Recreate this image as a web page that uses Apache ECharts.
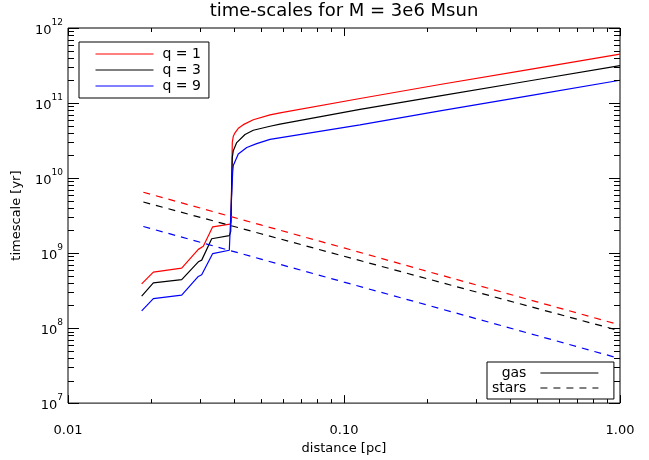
<!DOCTYPE html>
<html><head><meta charset="utf-8">
<script src="https://cdn.jsdelivr.net/npm/echarts@6/dist/echarts.min.js"></script>
<style>html,body{margin:0;padding:0;background:#fff}#c{width:649px;height:460px}</style>
</head><body><div id="c"></div>
<script>
const FONT = 'DejaVu Sans';

// axis ticks
const xTickValues = [0.01, 0.1, 1];
const xTickLabels = ['0.01', '0.10', '1.00'];
const yTickExponents = [7, 8, 9, 10, 11, 12];
const minorMultipliers = [2, 3, 4, 5, 6, 7, 8, 9];

// gas time-scales (solid)
const dGasRed   = [0.01849, 0.02038, 0.02582, 0.02966, 0.03092, 0.03344, 0.03864, 0.03896, 0.03938, 0.03971, 0.04028, 0.04140, 0.04318, 0.04692, 0.05395, 0.05864, 0.1143, 0.2227, 0.4720, 1.0];
const tGasRed   = [3.88e8, 5.56e8, 6.28e8, 1.12e9, 1.23e9, 2.24e9, 2.43e9, 2.60e9, 3.0e10, 3.6e10, 4.01e10, 4.6e10, 5.15e10, 5.98e10, 6.95e10, 7.4e10, 1.148e11, 1.765e11, 2.81e11, 4.48e11];
const dGasBlack = [0.01849, 0.02038, 0.02582, 0.02966, 0.03051, 0.03316, 0.03841, 0.03886, 0.03938, 0.03971, 0.04086, 0.04378, 0.04692, 0.05395, 0.05864, 0.1143, 0.2227, 0.4720, 1.0];
const tGasBlack = [2.67e8, 4.00e8, 4.42e8, 7.65e8, 8.05e8, 1.55e9, 1.71e9, 1.93e9, 1.89e10, 2.31e10, 2.97e10, 3.81e10, 4.33e10, 4.90e10, 5.24e10, 8.25e10, 1.245e11, 1.98e11, 3.15e11];
const dGasBlue  = [0.01849, 0.02038, 0.02582, 0.02966, 0.03051, 0.03344, 0.03841, 0.03896, 0.0395, 0.03971, 0.0414, 0.04443, 0.04827, 0.05395, 0.1143, 0.2227, 0.4720, 1.0];
const tGasBlue  = [1.70e8, 2.47e8, 2.75e8, 4.88e8, 5.13e8, 9.85e8, 1.09e9, 1.15e9, 1.2e10, 1.47e10, 2.09e10, 2.55e10, 2.88e10, 3.28e10, 5.1e10, 7.84e10, 1.255e11, 2.01e11];

// stellar time-scales (dashed)
const dStars      = [0.01875, 0.05, 0.1, 0.2, 0.5, 1.0];
const tStarsRed   = [6.47e9, 2.37e9, 1.17e9, 5.72e8, 2.24e8, 1.10e8];
const tStarsBlack = [4.79e9, 1.81e9, 9.07e8, 4.55e8, 1.83e8, 9.19e7];
const tStarsBlue  = [2.26e9, 8.31e8, 4.10e8, 2.03e8, 7.96e7, 3.92e7];

function pairs(xs, ys) { return xs.map((x, i) => [x, ys[i]]); }

// tick data for custom tick series (value, flag major)
const xTicks = [];
xTickValues.forEach((v, i) => {
  xTicks.push([v, 1e7, 1]);
  if (i < xTickValues.length - 1) minorMultipliers.forEach(m => xTicks.push([v * m, 1e7, 0]));
});
const yTicks = [];
yTickExponents.forEach((e, i) => {
  const v = Math.pow(10, e);
  yTicks.push([0.01, v, 1]);
  if (i < yTickExponents.length - 1) minorMultipliers.forEach(m => yTicks.push([0.01, v * m, 0]));
});

function renderXTick(params, api) {
  const cs = params.coordSys;
  const p = api.coord([api.value(0), api.value(1)]);
  const x = Math.round(p[0]) + 0.5;
  const len = api.value(2) ? 8 : 4;
  const yb = cs.y + cs.height, yt = cs.y;
  return {type: 'group', children: [
    {type: 'line', shape: {x1: x, y1: yb, x2: x, y2: yb - len}, style: {stroke: '#000', lineWidth: 1}},
    {type: 'line', shape: {x1: x, y1: yt, x2: x, y2: yt + len}, style: {stroke: '#000', lineWidth: 1}}
  ]};
}
function renderYTick(params, api) {
  const cs = params.coordSys;
  const p = api.coord([api.value(0), api.value(1)]);
  const y = Math.round(p[1]) + 0.5;
  const len = api.value(2) ? 11 : 6;
  const xl = cs.x, xr = cs.x + cs.width;
  return {type: 'group', children: [
    {type: 'line', shape: {x1: xl, y1: y, x2: xl + len, y2: y}, style: {stroke: '#000', lineWidth: 1}},
    {type: 'line', shape: {x1: xr, y1: y, x2: xr - len, y2: y}, style: {stroke: '#000', lineWidth: 1}}
  ]};
}

function lineSeries(name, data, color, dashed) {
  return {
    name: name, type: 'line', data: data, symbol: 'none', showSymbol: false,
    silent: true, z: 3,
    lineStyle: {color: color, width: 1.2, type: dashed ? [7, 6] : 'solid'},
    itemStyle: {color: color}
  };
}

const chart = echarts.init(document.getElementById('c'), null, {renderer: 'canvas'});
const txt = {fontFamily: FONT, color: '#000'};
const hiddenSymbol = {color: 'transparent', borderWidth: 0, opacity: 0};

chart.setOption({
  animation: false,
  backgroundColor: '#fff',
  title: {
    text: 'time-scales for M = 3e6 Msun',
    left: 344, top: 2, textAlign: 'center', padding: 0,
    textStyle: {fontFamily: FONT, fontSize: 18, fontWeight: 'normal', color: '#000'}
  },
  grid: {left: 68, top: 28, width: 552, height: 383, show: true, borderColor: '#000', borderWidth: 1, backgroundColor: 'transparent'},
  xAxis: {
    type: 'log', logBase: 10, min: 0.01, max: 1,
    axisLine: {show: false}, axisTick: {show: false}, splitLine: {show: false},
    axisLabel: {
      ...txt, fontSize: 13, margin: 21,
      formatter: v => {
        const i = xTickValues.findIndex(t => Math.abs(Math.log10(t / v)) < 1e-6);
        return i >= 0 ? xTickLabels[i] : '';
      }
    },
    name: 'distance [pc]', nameLocation: 'middle', nameGap: 30,
    nameTextStyle: {...txt, fontSize: 13}
  },
  yAxis: {
    type: 'log', logBase: 10, min: 1e7, max: 1e12,
    axisLine: {show: false}, axisTick: {show: false}, splitLine: {show: false},
    axisLabel: {
      margin: 5,
      formatter: v => '{b|10}{s|' + Math.round(Math.log10(v)) + '}',
      rich: {
        b: {...txt, fontSize: 13, padding: [6, 0, 0, 0]},
        s: {...txt, fontSize: 9, verticalAlign: 'top'}
      }
    },
    name: 'timescale [yr]', nameLocation: 'middle', nameGap: 45,
    nameTextStyle: {...txt, fontSize: 13}
  },
  legend: [
    {
      data: ['q = 1', 'q = 3', 'q = 9'],
      orient: 'vertical', left: 79, top: 42, align: 'left',
      itemWidth: 58, itemHeight: 14, itemGap: 2,
      padding: [5, 8, 5, 16], borderColor: '#000', borderWidth: 1,
      selectedMode: false,
      itemStyle: hiddenSymbol,
      lineStyle: {width: 1},
      textStyle: {...txt, fontSize: 14, padding: [0, 0, 0, 4]}
    },
    {
      data: ['gas', 'stars'],
      orient: 'vertical', left: 487, top: 362, align: 'right',
      itemWidth: 58, itemHeight: 14, itemGap: 1,
      padding: [4, 15, 4, 5], borderColor: '#000', borderWidth: 1,
      selectedMode: false,
      itemStyle: hiddenSymbol,
      lineStyle: {width: 1},
      textStyle: {...txt, fontSize: 14, padding: [0, 9, 0, 0]}
    }
  ],
  series: [
    lineSeries('q = 1', pairs(dGasRed, tGasRed), '#ff0000', false),
    lineSeries('q = 3', pairs(dGasBlack, tGasBlack), '#000000', false),
    lineSeries('q = 9', pairs(dGasBlue, tGasBlue), '#0000ff', false),
    lineSeries('stars q = 1', pairs(dStars, tStarsRed), '#ff0000', true),
    lineSeries('stars q = 3', pairs(dStars, tStarsBlack), '#000000', true),
    lineSeries('stars q = 9', pairs(dStars, tStarsBlue), '#0000ff', true),
    lineSeries('gas', [], '#000000', false),
    lineSeries('stars', [], '#000000', true),
    {type: 'custom', name: 'xticks', data: xTicks, renderItem: renderXTick, silent: true, clip: false, z: 5},
    {type: 'custom', name: 'yticks', data: yTicks, renderItem: renderYTick, silent: true, clip: false, z: 5}
  ]
});
</script></body></html>
